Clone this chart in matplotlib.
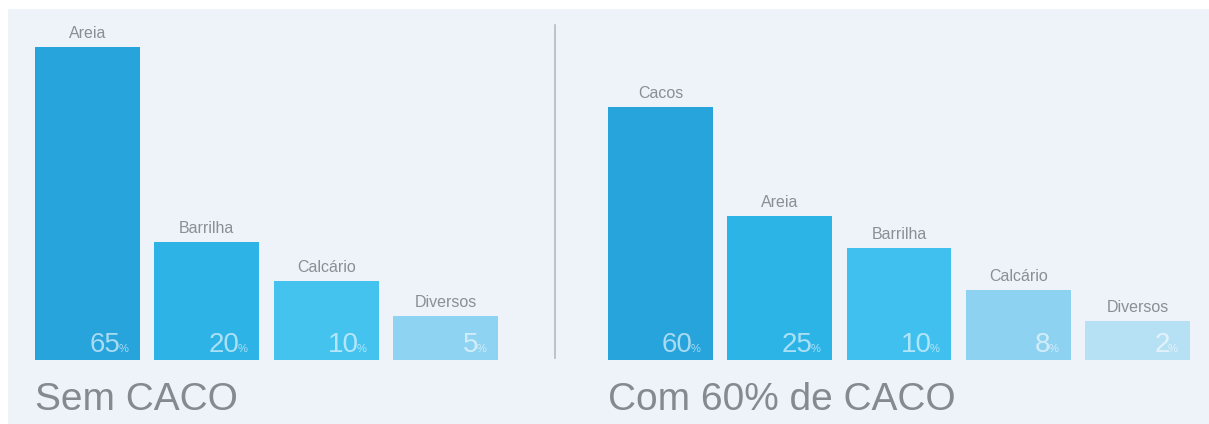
import matplotlib
matplotlib.use("Agg")
import matplotlib.pyplot as plt
from matplotlib.patches import Rectangle
from matplotlib.lines import Line2D

# ---- data ----
left_title = "Sem CACO"
left_categories = ["Areia", "Barrilha", "Calcário", "Diversos"]
left_percent = [65, 20, 10, 5]
left_bar_height = [313, 118, 79, 44]          # bar heights as drawn (not proportional)
left_colors = ["#27a4dc", "#2db3e6", "#45c3ef", "#8fd3f3"]

right_title = "Com 60% de CACO"
right_categories = ["Cacos", "Areia", "Barrilha", "Calcário", "Diversos"]
right_percent = [60, 25, 10, 8, 2]
right_bar_height = [253, 144, 112, 70, 39]
right_colors = ["#27a4dc", "#2db4e7", "#3fc0ee", "#8ed2f2", "#b6e1f5"]

W, H = 1209, 424
DPI = 100
BG = "#eef3f9"
FONT = ["Liberation Sans", "DejaVu Sans"]
plt.rcParams["font.family"] = FONT

fig = plt.figure(figsize=(W / DPI, H / DPI), dpi=DPI, facecolor="white")
fig.add_artist(Rectangle((8 / W, 0), 1 - 8 / W, 1 - 9 / H, transform=fig.transFigure,
                         facecolor=BG, edgecolor="none", zorder=0))

bottom_px = 360
bar_w = 0.88


def panel(x0_px, x1_px, cats, pct, heights, colors, title):
    n = len(cats)
    ax = fig.add_axes([x0_px / W, 1 - bottom_px / H, (x1_px - x0_px) / W, bottom_px / H])
    ax.set_facecolor("none")
    ax.set_xlim(-bar_w / 2, n - 1 + bar_w / 2)
    ax.set_ylim(0, bottom_px)
    ax.axis("off")
    xs = list(range(n))
    ax.bar(xs, heights, width=bar_w, color=colors, edgecolor="none", zorder=2)
    for x, h, c, p in zip(xs, heights, cats, pct):
        ax.annotate(c, xy=(x, h), xytext=(0, 9), textcoords="offset pixels",
                    ha="center", va="baseline", fontsize=11.5, color="#8a8f97", zorder=3)
        ax.annotate("%", xy=(x + bar_w / 2, 0), xytext=(-12, 8), textcoords="offset pixels",
                    ha="right", va="baseline", fontsize=8, color="white", alpha=0.6, zorder=3)
        ax.annotate(str(p), xy=(x + bar_w / 2, 0), xytext=(-20, 8), textcoords="offset pixels",
                    ha="right", va="baseline", fontsize=20, color="white", alpha=0.6, zorder=3)
    fig.text(x0_px / W, 1 - 410 / H, title, ha="left", va="baseline",
             fontsize=28, color="#858a91")
    return ax


panel(35, 498, left_categories, left_percent, left_bar_height, left_colors, left_title)
panel(608, 1190, right_categories, right_percent, right_bar_height, right_colors, right_title)

fig.add_artist(Line2D([555 / W, 555 / W], [1 - 25 / H, 1 - 358 / H], transform=fig.transFigure,
                      color="#b5b9c0", linewidth=1.2))

fig.savefig("out.png", dpi=DPI, facecolor=fig.get_facecolor())
